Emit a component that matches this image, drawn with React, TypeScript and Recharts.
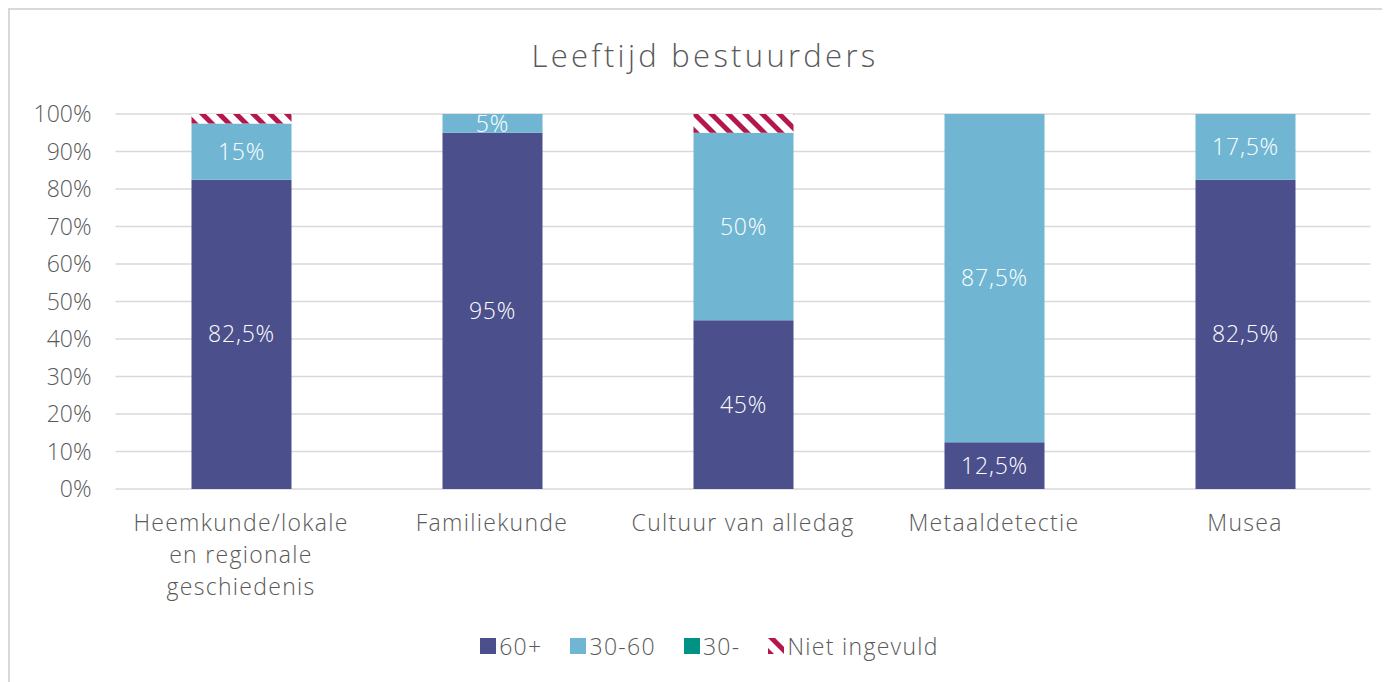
import { Bar, BarChart, CartesianGrid, LabelList, Legend, XAxis, YAxis } from 'recharts'

const categories = [
  'Heemkunde/lokale en regionale geschiedenis',
  'Familiekunde',
  'Cultuur van alledag',
  'Metaaldetectie',
  'Musea',
]
const age60plus = [82.5, 95, 45, 12.5, 82.5]
const age30to60 = [15, 5, 50, 87.5, 17.5]
const age30min = [0, 0, 0, 0, 0]
const notFilled = [2.5, 0, 5, 0, 0]
const yTicks = [0, 10, 20, 30, 40, 50, 60, 70, 80, 90, 100]

const series = [
  { key: 'a60', name: '60+', color: '#4B4F8C' },
  { key: 'a3060', name: '30-60', color: '#70B6D3' },
  { key: 'a30', name: '30-', color: '#009383' },
  { key: 'none', name: 'Niet ingevuld', color: 'url(#hatch)' },
]

const data = categories.map((name, i) => ({
  name,
  a60: age60plus[i],
  a3060: age30to60[i],
  a30: age30min[i],
  none: notFilled[i],
}))

const FONT = '"Open Sans", sans-serif'
const GREY = '#595959'
const FS = 23
const LS = 1.3

// wide letter spacing to mimic the original font
const labelStyle = {
  fontSize: FS,
  fontFamily: FONT,
  fontWeight: 300,
  letterSpacing: LS,
}

const pct = (v: any) => (v ? `${String(v).replace('.', ',')}%` : '')

let ctx: CanvasRenderingContext2D | null = null
function measure(s: string) {
  if (!ctx) ctx = document.createElement('canvas').getContext('2d')
  if (!ctx) return s.length * 12
  ctx.font = `300 ${FS}px ${FONT}`
  return ctx.measureText(s).width + s.length * LS
}

function wrap(label: string, maxWidth: number) {
  const lines: string[] = []
  let cur = ''
  for (const w of label.split(' ')) {
    const next = cur ? cur + ' ' + w : w
    if (cur && measure(next) > maxWidth) {
      lines.push(cur)
      cur = w
    } else cur = next
  }
  if (cur) lines.push(cur)
  return lines
}

function CategoryTick(props: any) {
  const { x, y, payload } = props
  const lines = wrap(payload.value, 240)
  return (
    <text x={x} y={y} textAnchor='middle' fill={GREY} style={labelStyle}>
      {lines.map((l, i) => (
        <tspan key={i} x={x} dy={i === 0 ? 16 : 32}>
          {l}
        </tspan>
      ))}
    </text>
  )
}

function LegendBox() {
  return (
    <div
      style={{
        display: 'flex',
        justifyContent: 'center',
        alignItems: 'center',
        gap: 28,
        height: 30,
        color: GREY,
        ...labelStyle,
      }}
    >
      {series.map((s) => (
        <div key={s.key} style={{ display: 'flex', alignItems: 'center' }}>
          <svg width={16} height={16} style={{ marginRight: 3 }}>
            <rect width={16} height={16} fill={s.color} />
          </svg>
          <span>{s.name}</span>
        </div>
      ))}
    </div>
  )
}

export default function App() {
  return (
    <div
      style={{
        position: 'relative',
        width: 1380,
        height: 672,
        borderTop: '2px solid #D9D9D9',
        borderLeft: '2px solid #D9D9D9',
        overflow: 'hidden',
        background: '#fff',
      }}
    >
      <div
        style={{
          position: 'absolute',
          left: 0,
          top: 25,
          width: 1390,
          textAlign: 'center',
          fontFamily: FONT,
          fontWeight: 300,
          fontSize: 31,
          letterSpacing: 3.3,
          lineHeight: '40px',
          color: GREY,
        }}
      >
        Leeftijd bestuurders
      </div>
      <BarChart
        width={1380}
        height={672}
        data={data}
        margin={{ top: 104, right: 19.5, left: 0, bottom: 21 }}
      >
        <defs>
          <pattern
            id='hatch'
            patternUnits='userSpaceOnUse'
            width={12}
            height={12}
            patternTransform='rotate(-45)'
          >
            <rect width={12} height={12} fill='#fff' />
            <rect width={5} height={12} fill='#B5164B' />
          </pattern>
        </defs>
        <CartesianGrid vertical={false} stroke='#D9D9D9' strokeWidth={1.5} />
        <XAxis
          dataKey='name'
          axisLine={false}
          tickLine={false}
          tickSize={0}
          tickMargin={26}
          height={142}
          interval={0}
          tick={<CategoryTick />}
        />
        <YAxis
          domain={[0, 100]}
          ticks={yTicks}
          width={105.5}
          axisLine={false}
          tickLine={false}
          tickSize={0}
          tickMargin={24}
          tickFormatter={(v) => `${v}%`}
          tick={{ fill: GREY, fontSize: FS, fontFamily: FONT, fontWeight: 300 }}
        />
        <Legend
          verticalAlign='bottom'
          content={<LegendBox />}
          wrapperStyle={{ left: 0, width: 1399, height: 30 }}
        />
        {series.map((s) => (
          <Bar
            key={s.key}
            dataKey={s.key}
            name={s.name}
            stackId='a'
            fill={s.color}
            barSize={100}
            isAnimationActive={false}
          >
            {(s.key === 'a60' || s.key === 'a3060') && (
              <LabelList
                dataKey={s.key}
                position='center'
                formatter={pct}
                fill='#fff'
                style={{ ...labelStyle, letterSpacing: 0.8 }}
              />
            )}
          </Bar>
        ))}
      </BarChart>
    </div>
  )
}
